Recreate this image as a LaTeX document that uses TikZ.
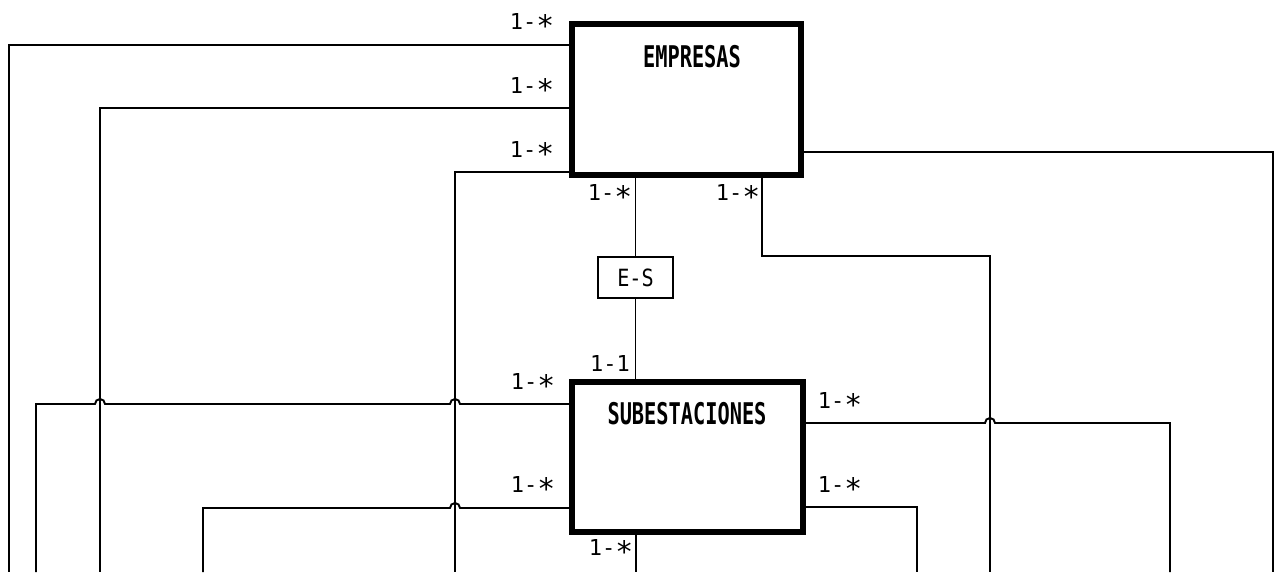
\documentclass[tikz,border=0pt]{standalone}
\usepackage{fontspec}
\usepackage{graphicx}
\newfontfamily\plotfont{DejaVu Sans Mono}
\newcommand{\mstar}{\raisebox{-0.55ex}{\scalebox{1.35}{*}}}
\usetikzlibrary{positioning, calc}

\begin{document}
\begin{tikzpicture}[
    x=0.02cm, y=-0.02cm,
    line width=1.1pt,
    entity/.style={draw, line width=3.4pt, inner sep=0pt},
    assoc/.style={draw, line width=1.1pt, inner sep=0pt, minimum width=1.5cm, minimum height=0.82cm, font=\plotfont\fontsize{13.5}{14}\selectfont},
    title_style/.style={inner sep=0pt, font=\plotfont\bfseries\fontsize{17}{18}\selectfont},
    card_style/.style={inner sep=0pt, font=\plotfont\fontsize{12.5}{13}\selectfont}
]
    \useasboundingbox (0,0) rectangle (1281,572);

    % ================= ENTITIES =================
    \node[entity, minimum width=4.58cm, minimum height=3.02cm] (emp) at (686.5,99.5) {};
    \node[entity, minimum width=4.62cm, minimum height=3cm] (sub) at (687.5,457) {};
    \node[assoc] (es) at (635.5,277.5) {\scalebox{0.85}[1]{E-S}};

    \node[title_style] (empname) at (692,57) {\scalebox{0.68}[1]{EMPRESAS}};
    \node[title_style] (subname) at (687,414) {\scalebox{0.68}[1]{SUBESTACIONES}};

    % ================= CORNERS =================
    \coordinate (bot) at (0,572);
    \coordinate (a1) at (9,45);
    \coordinate (a2) at (100,108);
    \coordinate (a3) at (455,172);
    \coordinate (a4) at (1273,152);
    \coordinate (a5) at (762,256);
    \coordinate (a6) at (990,256);
    \coordinate (b1) at (36,404);
    \coordinate (b2) at (203,508);
    \coordinate (b3) at (1170,423);
    \coordinate (b4) at (917,507);
    \coordinate (b5) at (636,572);

    % Connections of EMPRESAS
    \draw (emp.west |- a1) -- (a1) -- (a1 |- bot);
    \draw (emp.west |- a2) -- (a2) -- (a2 |- bot);
    \draw (emp.west |- a3) -- (a3) -- (a3 |- bot);
    \draw (emp.east |- a4) -- (a4) -- (a4 |- bot);
    \draw (emp.south -| a5) -- (a5) -- (a6) -- (a6 |- bot);
    \draw (es.north) -- (es.north |- emp.south);
    \draw (es.south) -- (es.south |- sub.north);

    % Connections of SUBESTACIONES
    \draw (sub.west |- b1) -- ([xshift=0.1cm]a3 |- b1) arc[start angle=0, end angle=180, radius=0.1cm]
        -- ([xshift=0.1cm]a2 |- b1) arc[start angle=0, end angle=180, radius=0.1cm]
        -- (b1) -- (b1 |- bot);
    \draw (sub.west |- b2) -- ([xshift=0.1cm]a3 |- b2) arc[start angle=0, end angle=180, radius=0.1cm]
        -- (b2) -- (b2 |- bot);
    \draw (sub.east |- b3) -- ([xshift=-0.1cm]a6 |- b3) arc[start angle=180, end angle=0, radius=0.1cm]
        -- (b3) -- (b3 |- bot);
    \draw (sub.east |- b4) -- (b4) -- (b4 |- bot);
    \draw (sub.south -| b5) -- (b5);

    % Cardinalities
    \node[card_style] (c1) at (532,25) {1-\mstar};
    \node[card_style] (c2) at (532,89) {1-\mstar};
    \node[card_style] (c3) at (532,153) {1-\mstar};
    \node[card_style] (c4) at (610,196) {1-\mstar};
    \node[card_style] (c5) at (738,196) {1-\mstar};
    \node[card_style] (c6) at (610,363) {1-1};
    \node[card_style] (c7) at (533,385) {1-\mstar};
    \node[card_style] (c8) at (533,488) {1-\mstar};
    \node[card_style] (c9) at (840,404) {1-\mstar};
    \node[card_style] (c10) at (840,488) {1-\mstar};
    \node[card_style] (c11) at (611,551) {1-\mstar};

\end{tikzpicture}
\end{document}
